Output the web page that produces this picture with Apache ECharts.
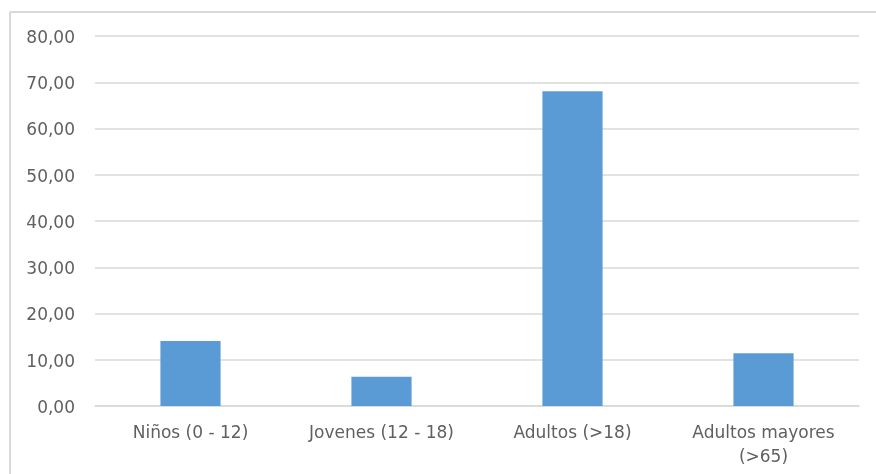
<!DOCTYPE html>
<html>
<head>
<meta charset="utf-8">
<script src="https://cdn.jsdelivr.net/npm/echarts@6/dist/echarts.min.js"></script>
<style>
html,body{margin:0;padding:0;background:#fff;}
#c{width:876px;height:474px;}
</style>
</head>
<body>
<div id="c"></div>
<script>
var categories = ['Niños (0 - 12)', 'Jovenes (12 - 18)', 'Adultos (>18)', 'Adultos mayores\n(>65)'];
var values = [14.05, 6.34, 68.04, 11.39];
var yTicks = {min: 0, max: 80, interval: 10};

var FONT = 'DejaVu Sans, sans-serif';
var chart = echarts.init(document.getElementById('c'), null, {renderer: 'canvas'});
chart.setOption({
  animation: false,
  backgroundColor: '#ffffff',
  graphic: [
    {type: 'line', shape: {x1: 10, y1: 12, x2: 876, y2: 12}, style: {stroke: '#d9d9d9', lineWidth: 2}},
    {type: 'line', shape: {x1: 10, y1: 12, x2: 10, y2: 474}, style: {stroke: '#d9d9d9', lineWidth: 2}}
  ],
  grid: {left: 95, right: 17, top: 36, bottom: 68, containLabel: false},
  xAxis: {
    type: 'category',
    data: categories,
    axisTick: {show: false},
    axisLine: {show: true, lineStyle: {color: '#d9d9d9', width: 1.5}},
    axisLabel: {
      color: '#606060', fontSize: 17, fontFamily: FONT,
      margin: 16, lineHeight: 24, interval: 0
    }
  },
  yAxis: {
    type: 'value',
    min: yTicks.min, max: yTicks.max, interval: yTicks.interval,
    axisLine: {show: false},
    axisTick: {show: false},
    splitLine: {lineStyle: {color: '#d9d9d9', width: 1.5}},
    axisLabel: {
      color: '#606060', fontSize: 17, fontFamily: FONT,
      margin: 20, verticalAlign: 'top', lineHeight: 5,
      formatter: function (v) { return v.toFixed(2).replace('.', ','); }
    }
  },
  series: [{
    type: 'bar',
    data: values,
    barWidth: '31.5%',
    itemStyle: {color: '#5b9bd5'}
  }]
});
</script>
</body>
</html>
